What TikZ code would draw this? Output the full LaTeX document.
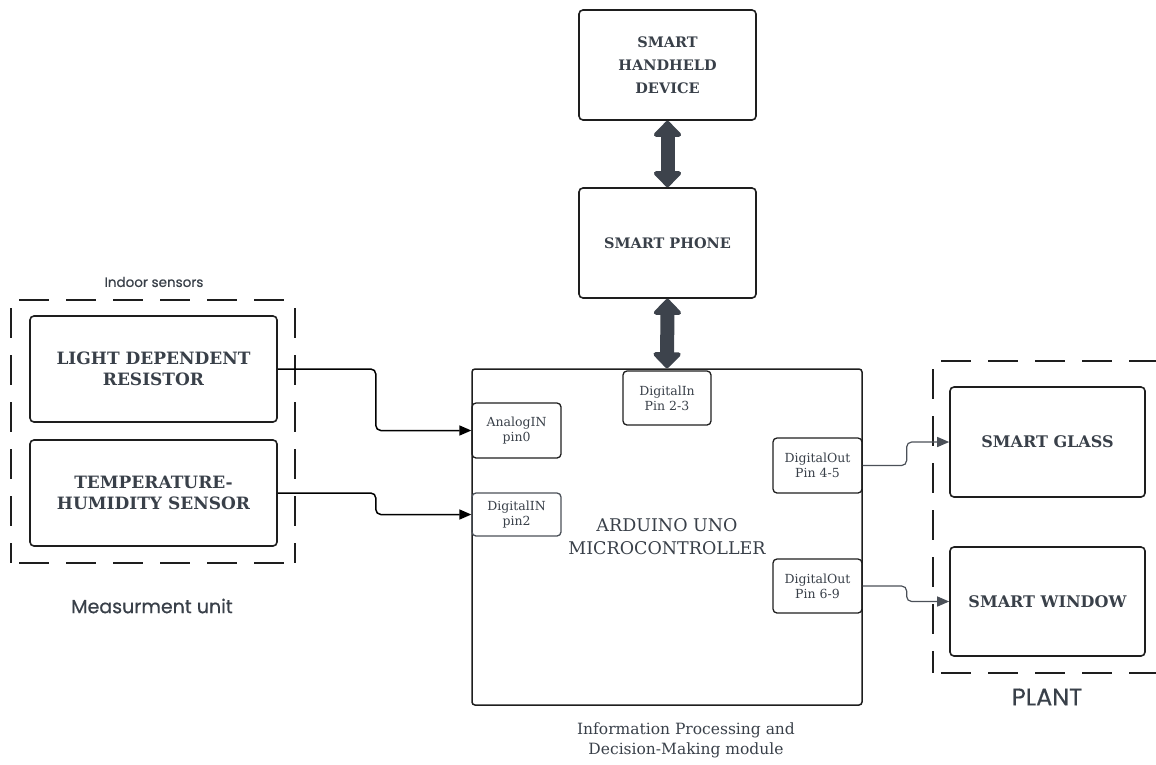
\documentclass[tikz,border=0pt]{standalone}
\usepackage{fontspec}
\setmainfont{DejaVu Serif}
\newfontfamily\handfont[FakeBold=0.6]{Poppins}
\usetikzlibrary{arrows.meta,calc}
\definecolor{txt}{HTML}{394049}
\definecolor{dark}{HTML}{3D434C}
\definecolor{edge}{HTML}{1E1E1E}
\definecolor{graycon}{HTML}{4B5058}
\begin{document}
\begin{tikzpicture}[x=1pt,y=-1pt,
  box/.style={draw=edge, line width=1.6pt, rounded corners=4pt, align=center, text=txt, inner sep=0pt},
  big/.style={font=\fontsize{17}{21}\selectfont\bfseries},
  mid/.style={font=\fontsize{16}{20}\selectfont\bfseries},
  small/.style={font=\fontsize{14.5}{23}\selectfont\bfseries},
  pin/.style={draw=edge, line width=1.3pt, rounded corners=4pt, align=center, text=txt, inner sep=0pt, font=\fontsize{12.5}{15}\selectfont},
  grp/.style={draw=edge, line width=1.6pt, dash pattern=on 30pt off 17pt, dash phase=-8pt},
  hand/.style={text=txt, font=\handfont},
  conn/.style={draw=black, line width=1.5pt, rounded corners=5pt, -{Triangle[length=12pt,width=10pt]}},
  conng/.style={draw=graycon, line width=1.2pt, rounded corners=5pt, -{Triangle[length=12pt,width=10pt]}},
  dbl/.style={draw=dark, line width=14pt, {Triangle[round,length=17pt,width=32pt]}-{Triangle[round,length=17pt,width=32pt]}}
]
\useasboundingbox (0,0) rectangle (1156,764);

% groups
\draw[grp] (11,300) -- (295,300);
\draw[grp] (11,563) -- (295,563);
\draw[grp] (11,300) -- (11,563);
\draw[grp] (295,300) -- (295,563);
\draw[grp] (933,361) -- (1170,361);
\draw[grp] (933,673) -- (1170,673);
\draw[grp] (933,361) -- (933,673);
\node[hand, font=\handfont\fontsize{13.5}{16}\selectfont] (indoor) at (154,282) {Indoor sensors};
\node[hand, font=\handfont\fontsize{19}{22}\selectfont] (meas) at (152,606) {Measurment unit};
\node[hand, font=\handfont\fontsize{24}{26}\selectfont] (plant) at (1047,697) {PLANT};

% top devices
\node[box, small, minimum width=177pt, minimum height=110pt] (handheld) at (667.5,65) {SMART\\HANDHELD\\DEVICE};
\node[box, small, minimum width=177pt, minimum height=110pt] (phone) at (667.5,243) {SMART PHONE};

% sensors
\node[box, big, minimum width=247pt, minimum height=106pt] (ldr) at (153.5,369) {LIGHT DEPENDENT\\RESISTOR};
\node[box, big, minimum width=247pt, minimum height=106pt] (ths) at (153.5,493) {TEMPERATURE-\\HUMIDITY SENSOR};

% arduino
\node[box, line width=1.5pt, minimum width=390pt, minimum height=336pt, rounded corners=3pt] (ard) at (667,537) {};
\node[text=txt, align=center, font=\fontsize{17.5}{23}\selectfont] (ardtxt) at (667,537) {ARDUINO UNO\\MICROCONTROLLER};
\node[pin, minimum width=88pt, minimum height=54pt] (din) at (667,398) {DigitalIn\\Pin 2-3};
\node[pin, minimum width=89pt, minimum height=55pt] (ain) at (516.5,430.5) {AnalogIN\\pin0};
\node[pin, draw=graycon, minimum width=89pt, minimum height=43pt] (dig) at (516.5,514.5) {DigitalIN\\pin2};
\node[pin, minimum width=89pt, minimum height=55pt] (dofs) at (817.5,465.5) {DigitalOut\\Pin 4-5};
\node[pin, minimum width=89pt, minimum height=54pt] (dosn) at (817.5,586) {DigitalOut\\Pin 6-9};
\node[text=txt, align=center, font=\fontsize{15.5}{20}\selectfont] (cap) at (686,740) {Information Processing and\\Decision-Making module};

% actuators
\node[box, mid, minimum width=195pt, minimum height=110pt] (glass) at (1047.5,442) {SMART GLASS};
\node[box, mid, minimum width=195pt, minimum height=109pt] (window) at (1047.5,601.5) {SMART WINDOW};

% connectors
\draw[dbl] (handheld.south) -- (phone.north);
\draw[dbl] (phone.south) -- (ard.north);
\draw[conn] (ldr.east) -- ++(98,0) |- (ain.west);
\draw[conn] (ths.east) -- ++(98,0) |- (dig.west);
\draw[conng] (dofs.east) -- ++(44,0) |- (glass.west);
\draw[conng] (dosn.east) -- ++(44,0) |- (window.west);
\end{tikzpicture}
\end{document}
